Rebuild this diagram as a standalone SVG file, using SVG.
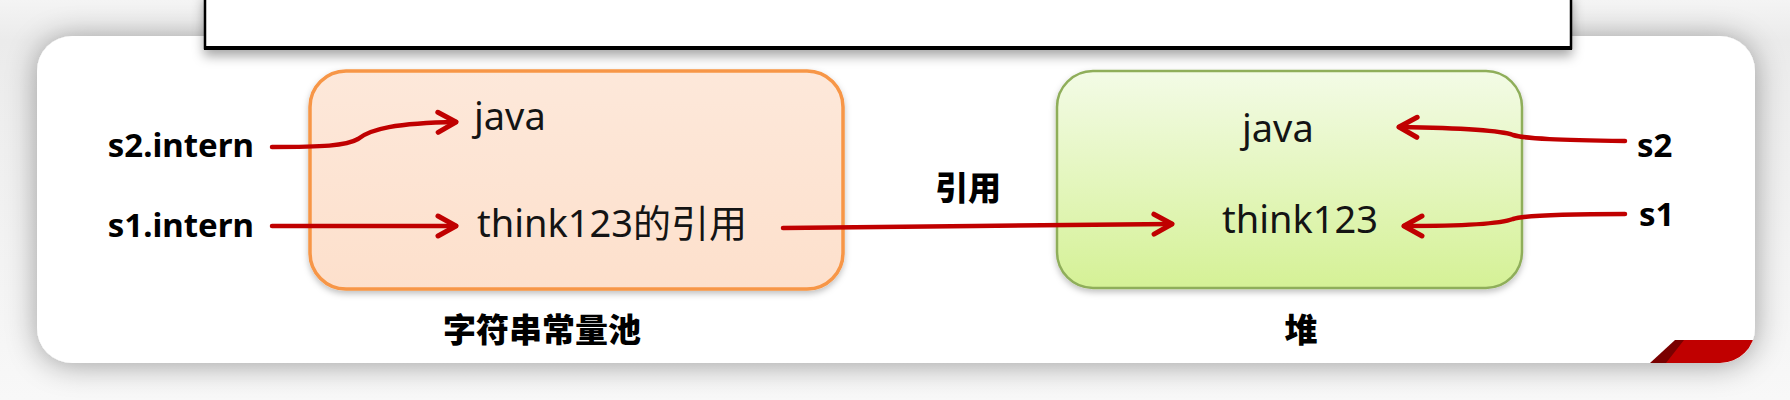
<svg xmlns="http://www.w3.org/2000/svg" width="1790" height="400" viewBox="0 0 1790 400">
  <defs>
    <style>
      .lbl { font-family: "Noto Sans", "Noto Sans CJK SC", sans-serif; font-size: 38px; fill: #141414; }
      .bold { font-family: "Noto Sans", "Noto Sans CJK SC", sans-serif; font-size: 33px; font-weight: bold; fill: #000; }
      .cjkb { font-family: "Noto Sans CJK SC", sans-serif; font-size: 33px; font-weight: 900; fill: #000; }
      .arrow { fill: none; stroke: #c00000; stroke-width: 4.5; stroke-linecap: round; stroke-linejoin: round; }
    </style>
    <filter id="cardShadow" x="-10%" y="-30%" width="120%" height="160%">
      <feDropShadow dx="0" dy="2" stdDeviation="15" flood-color="#000" flood-opacity="0.36"/>
    </filter>
    <filter id="boxShadow" x="-10%" y="-10%" width="120%" height="130%">
      <feDropShadow dx="0" dy="3" stdDeviation="3" flood-color="#000" flood-opacity="0.25"/>
    </filter>
    <filter id="topShadow" x="-5%" y="-50%" width="110%" height="250%">
      <feDropShadow dx="0" dy="6" stdDeviation="6" flood-color="#000" flood-opacity="0.35"/>
    </filter>
    <linearGradient id="greenFill" x1="0" y1="0" x2="0" y2="1">
      <stop offset="0" stop-color="#f3fbe6"/>
      <stop offset="1" stop-color="#d5f196"/>
    </linearGradient>
    <linearGradient id="orangeFill" x1="0" y1="0" x2="0" y2="1">
      <stop offset="0" stop-color="#fde8da"/>
      <stop offset="1" stop-color="#fde0cc"/>
    </linearGradient>
    <linearGradient id="bgFill" x1="0" y1="0" x2="0" y2="1">
      <stop offset="0" stop-color="#f4f4f4"/>
      <stop offset="0.1" stop-color="#ebebeb"/>
      <stop offset="1" stop-color="#f8f8f8"/>
    </linearGradient>
    <clipPath id="cardClip">
      <rect x="37" y="36" width="1718" height="327" rx="35" ry="35"/>
    </clipPath>
    <marker id="chev" viewBox="-24 -14 30 28" markerWidth="30" markerHeight="28" refX="0" refY="0" orient="auto" markerUnits="userSpaceOnUse">
      <path d="M-18,-10 L0,0 L-18,10" fill="none" stroke="#c00000" stroke-width="5" stroke-linecap="round" stroke-linejoin="round"/>
    </marker>
  </defs>

  <!-- background -->
  <rect x="0" y="0" width="1790" height="400" fill="url(#bgFill)"/>

  <!-- card -->
  <rect x="37" y="36" width="1718" height="327" rx="35" ry="35" fill="#ffffff" filter="url(#cardShadow)"/>

  <!-- top bordered box -->
  <g id="top-box" filter="url(#topShadow)">
    <rect x="205" y="-6" width="1366" height="54" fill="#ffffff" stroke="#000" stroke-width="2.5"/>
    <line x1="204" y1="48" x2="1572" y2="48" stroke="#000" stroke-width="4"/>
  </g>

  <!-- logo fragment bottom-right -->
  <g id="logo" clip-path="url(#cardClip)">
    <polygon points="1664,363 1682,340 1760,340 1760,363" fill="#c00000"/>
    <polygon points="1650,363 1675,340 1684,340 1666,363" fill="#7a0000"/>
  </g>

  <!-- string constant pool -->
  <g id="pool">
    <rect x="310" y="71" width="533" height="218" rx="36" ry="36" fill="url(#orangeFill)" stroke="#f79646" stroke-width="3.5" filter="url(#boxShadow)"/>
    <text class="lbl" x="474" y="130">java</text>
    <text class="lbl" x="477" y="237">think123的引用</text>
    <text class="cjkb" x="542" y="342" text-anchor="middle">字符串常量池</text>
  </g>

  <!-- heap -->
  <g id="heap">
    <rect x="1057" y="71" width="465" height="217" rx="36" ry="36" fill="url(#greenFill)" stroke="#8fae5a" stroke-width="2.5" filter="url(#boxShadow)"/>
    <text class="lbl" x="1242" y="142">java</text>
    <text class="lbl" x="1222" y="233">think123</text>
    <text class="cjkb" x="1301" y="342" text-anchor="middle">堆</text>
  </g>

  <!-- variable labels -->
  <g id="s2-intern"><text class="bold" x="254" y="157" text-anchor="end">s2.intern</text></g>
  <g id="s1-intern"><text class="bold" x="254" y="237" text-anchor="end">s1.intern</text></g>
  <g id="s2"><text class="bold" x="1637" y="157">s2</text></g>
  <g id="s1"><text class="bold" x="1639" y="226">s1</text></g>
  <g id="ref-label"><text class="cjkb" x="968" y="200" text-anchor="middle">引用</text></g>

  <!-- connectors -->
  <g id="connectors">
    <path class="arrow" d="M272,147 C322,147 346,146 358,139 C370,129 396,123 456,122" marker-end="url(#chev)"/>
    <path class="arrow" d="M272,226 L456,226" marker-end="url(#chev)"/>
    <path class="arrow" d="M783,228 L975,226 L1172,224" marker-end="url(#chev)"/>
    <path class="arrow" d="M1625,141 C1560,140 1526,139 1513,135 C1500,130 1462,128 1399,127" marker-end="url(#chev)"/>
    <path class="arrow" d="M1625,214 C1560,214 1526,215 1513,219 C1500,224 1462,226 1404,226" marker-end="url(#chev)"/>
  </g>
</svg>
